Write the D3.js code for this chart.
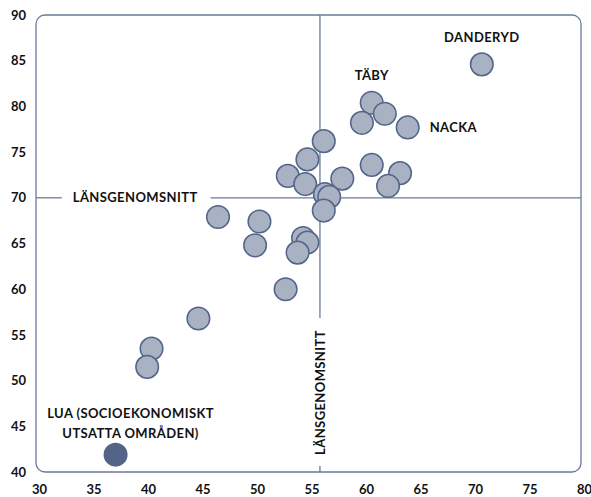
<!DOCTYPE html>
<html>
<head>
<meta charset="utf-8">
<script src="https://cdn.jsdelivr.net/npm/d3@7"></script>
<style>
  body { margin: 0; background: #fff; }
  text { font-family: Lato, 'Open Sans', sans-serif; font-weight: 700; fill: #111; }
  .lbl { font-size: 13px; letter-spacing: 0.4px; }
  .tick text { font-size: 13px; }
</style>
</head>
<body>
<div id="chart"></div>
<script>
// municipalities: x, y (share in %)
const xValues = [70.9, 60.8, 62.0, 59.9, 64.1, 56.4, 60.8, 63.4, 62.3, 58.1,
  54.9, 53.1, 54.7, 56.5, 56.9, 56.4, 50.5, 50.1, 54.5, 54.9, 54.0, 52.9,
  46.7, 44.9, 40.6, 40.2];
const yValues = [84.6, 80.4, 79.2, 78.2, 77.7, 76.2, 73.6, 72.7, 71.3, 72.1,
  74.2, 72.4, 71.5, 70.4, 70.1, 68.6, 67.4, 64.8, 65.6, 65.1, 64.0, 60.0,
  67.9, 56.8, 53.5, 51.5];
const pointNames = ['DANDERYD', 'TÄBY', '', '', 'NACKA'];
const luaPoint = { x: 37.3, y: 41.9 };
const meanX = 56.05;
const meanY = 70;
const xTicks = [30, 35, 40, 45, 50, 55, 60, 65, 70, 75, 80];
const yTicks = [40, 45, 50, 55, 60, 65, 70, 75, 80, 85, 90];
const meanLabel = 'LÄNSGENOMSNITT';
const luaLabel = ['LUA (SOCIOEKONOMISKT', 'UTSATTA OMRÅDEN)'];

const W = 591;
const H = 497;
const margin = { top: 15, right: 10, bottom: 25, left: 36 };
const width = W - margin.left - margin.right;
const height = H - margin.top - margin.bottom;

const lineColor = '#6a7a99';

const svg = d3.select('#chart').append('svg')
  .attr('width', W)
  .attr('height', H)
  .append('g')
  .attr('transform', `translate(${margin.left},${margin.top})`);

const x = d3.scaleLinear().domain([30, 80]).range([0, width]);
const y = d3.scaleLinear().domain([40, 90]).range([height, 0]);

svg.append('rect')
  .attr('width', width)
  .attr('height', height)
  .attr('rx', 9)
  .attr('fill', 'none')
  .attr('stroke', lineColor)
  .attr('stroke-width', 1.3);

const xAxis = d3.axisBottom(x).tickValues(xTicks).tickSize(0).tickPadding(13);
svg.append('g')
  .attr('transform', `translate(3,${height})`)
  .call(xAxis)
  .call(g => g.select('.domain').remove());

const yAxis = d3.axisLeft(y).tickValues(yTicks).tickSize(0).tickPadding(10);
svg.append('g')
  .call(yAxis)
  .call(g => g.select('.domain').remove());

svg.selectAll('.tick text').attr('fill', '#111');

// horizontal average line with label gap
const hLabel = svg.append('text')
  .attr('class', 'lbl')
  .attr('x', x(39.1))
  .attr('y', y(meanY))
  .attr('dy', '0.36em')
  .attr('text-anchor', 'middle')
  .text(meanLabel);
const hb = hLabel.node().getBBox();
svg.append('line')
  .attr('x1', 0).attr('x2', hb.x - 11)
  .attr('y1', y(meanY)).attr('y2', y(meanY))
  .attr('stroke', lineColor).attr('stroke-width', 1.3);
svg.append('line')
  .attr('x1', hb.x + hb.width + 13).attr('x2', width)
  .attr('y1', y(meanY)).attr('y2', y(meanY))
  .attr('stroke', lineColor).attr('stroke-width', 1.3);

// vertical average line with label gap
const vy = y(48.7);
const vLabel = svg.append('text')
  .attr('class', 'lbl')
  .attr('transform', `translate(${x(meanX)},${vy}) rotate(-90)`)
  .attr('dy', '0.36em')
  .attr('text-anchor', 'middle')
  .text(meanLabel);
const vw = vLabel.node().getComputedTextLength();
svg.append('line')
  .attr('x1', x(meanX)).attr('x2', x(meanX))
  .attr('y1', 0).attr('y2', vy - vw / 2 - 12)
  .attr('stroke', lineColor).attr('stroke-width', 1.3);
svg.append('line')
  .attr('x1', x(meanX)).attr('x2', x(meanX))
  .attr('y1', vy + vw / 2 + 11).attr('y2', height)
  .attr('stroke', lineColor).attr('stroke-width', 1.3);

const points = xValues.map((d, i) => ({ x: d, y: yValues[i], name: pointNames[i] || '' }));

svg.selectAll('circle.pt')
  .data(points)
  .enter().append('circle')
  .attr('class', 'pt')
  .attr('r', 11.3)
  .attr('cx', d => x(d.x))
  .attr('cy', d => y(d.y))
  .attr('fill', '#a8b2c2')
  .attr('stroke', '#536588')
  .attr('stroke-width', 1.5);

svg.append('circle')
  .attr('r', 12)
  .attr('cx', x(luaPoint.x))
  .attr('cy', y(luaPoint.y))
  .attr('fill', '#536486');

// point labels
svg.append('text').attr('class', 'lbl')
  .attr('x', x(points[0].x)).attr('y', 42 - margin.top)
  .attr('text-anchor', 'middle').text(points[0].name);
svg.append('text').attr('class', 'lbl')
  .attr('x', x(points[1].x)).attr('y', 80 - margin.top)
  .attr('text-anchor', 'middle').text(points[1].name);
svg.append('text').attr('class', 'lbl')
  .attr('x', x(points[4].x) + 22).attr('y', y(points[4].y) + 4.5)
  .attr('text-anchor', 'start').text(points[4].name);

const lua = svg.append('text').attr('class', 'lbl')
  .attr('text-anchor', 'middle');
lua.selectAll('tspan')
  .data(luaLabel)
  .enter().append('tspan')
  .attr('x', x(luaPoint.x) + 15)
  .attr('y', (d, i) => 418 - margin.top + i * 20)
  .text(d => d);
</script>
</body>
</html>
